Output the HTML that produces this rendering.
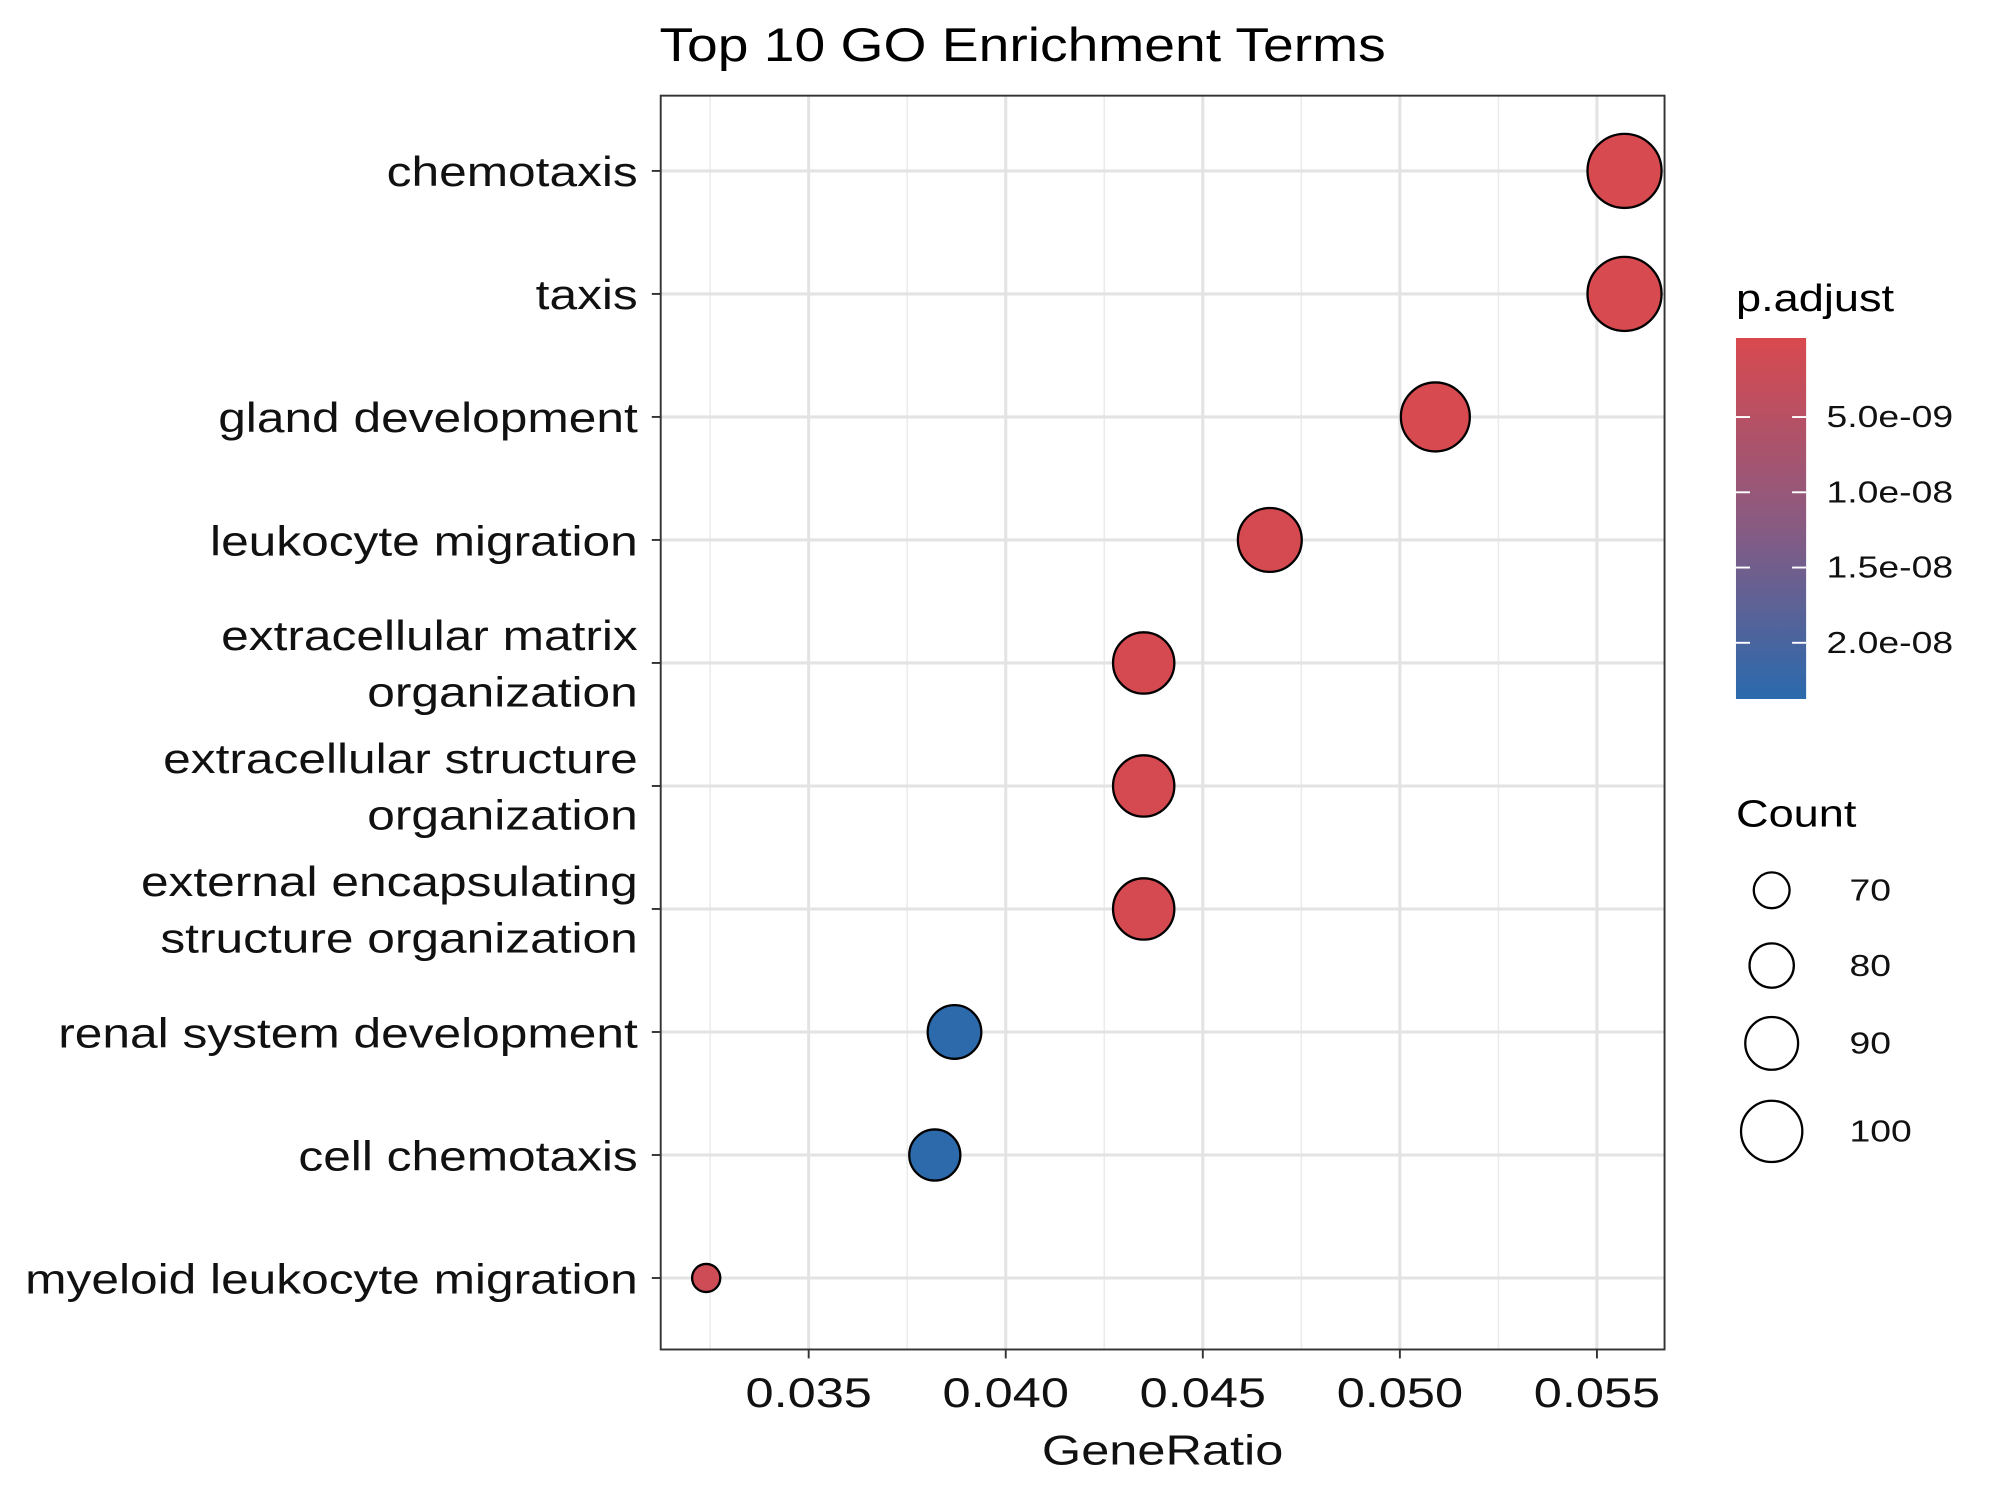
<!DOCTYPE html>
<html><head><meta charset="utf-8"><style>
html,body{margin:0;padding:0;background:#fff;}
svg{display:block;font-family:"Liberation Sans",Arial,sans-serif;}
</style></head><body>
<svg id="chart" width="2000" height="1500" viewBox="0 0 1568 1176" xmlns="http://www.w3.org/2000/svg">
<defs>
<linearGradient id="cbar" x1="0" y1="0" x2="0" y2="1">
<stop offset="0" stop-color="#D9494E"/><stop offset="0.5" stop-color="#8C5A80"/><stop offset="1" stop-color="#2A6AAD"/>
</linearGradient>
</defs>
<text transform="translate(517,48) scale(1.17,1)" font-size="37">Top 10 GO Enrichment Terms</text>
<g id="plot"></g>
<g id="legend">
<text transform="translate(1361,244) scale(1.18,1)" font-size="30">p.adjust</text>
<rect x="1361" y="265" width="55" height="283" fill="url(#cbar)"/>
<g id="cticks"></g>
<text transform="translate(1361,648) scale(1.18,1)" font-size="30">Count</text>
<g id="sizeleg"></g>
</g>
</svg>
<script>
const terms=["chemotaxis","taxis","gland development","leukocyte migration","extracellular matrix\norganization","extracellular structure\norganization","external encapsulating\nstructure organization","renal system development","cell chemotaxis","myeloid leukocyte migration"];
const geneRatio=[0.0557,0.0557,0.0509,0.0467,0.0435,0.0435,0.0435,0.0387,0.0382,0.0324];
const counts=[115,115,109,103,100,100,100,91,88,61];
const padj=[1e-10,1e-10,2e-10,3e-10,4e-10,4e-10,4e-10,2.3e-8,2.3e-8,1.5e-9];
const xTicks=[0.035,0.040,0.045,0.050,0.055];
const xTickLabels=["0.035","0.040","0.045","0.050","0.055"];
const cTicks=[5e-9,1e-8,1.5e-8,2e-8];
const cTickLabels=["5.0e-09","1.0e-08","1.5e-08","2.0e-08"];
const sizeBreaks=[70,80,90,100];

const NS="http://www.w3.org/2000/svg";
const L=518,R=1305,T=75,B=1058;
const x=v=>634+(v-0.035)/0.005*154.5;
const y=i=>134+i*96.44;
const r=c=>c/3-9.3;
const cy=v=>265+(v+0.25e-9)/5e-9*59;
function lerp(a,b,t){return Math.round(a+(b-a)*t);}
function col(p){let t=Math.max(0,Math.min(1,(p+0.25e-9)/2.36e-8));
 const s=[[217,73,78],[140,90,128],[42,106,173]];
 let a,b,u; if(t<0.5){a=s[0];b=s[1];u=t/0.5;}else{a=s[1];b=s[2];u=(t-0.5)/0.5;}
 return `rgb(${lerp(a[0],b[0],u)},${lerp(a[1],b[1],u)},${lerp(a[2],b[2],u)})`;}
function mk(tag,attrs,parent){const e=document.createElementNS(NS,tag);for(const k in attrs)e.setAttribute(k,attrs[k]);parent.appendChild(e);return e;}
function txt(parent,tx,ty,size,sx,anchor,content){
 const t=mk('text',{transform:`translate(${tx},${ty}) scale(${sx},1)`,'font-size':size,'text-anchor':anchor,fill:'#111'},parent);
 t.textContent=content;return t;}
const g=document.getElementById('plot');
const bg=mk('rect',{x:L,y:T,width:R-L,height:B-T,fill:'#fff'},g);


for(let i=0;i<xTicks.length+1;i++){const v=0.0325+i*0.005;const xx=x(v);if(xx<L||xx>R)continue;
 const ln=mk('line',{x1:xx,x2:xx,y1:T,y2:B,stroke:'#EBEBEB','stroke-width':1.2},g);
 
 }
xTicks.forEach((v,i)=>{const xx=x(v);
 const ln=mk('line',{x1:xx,x2:xx,y1:T,y2:B,stroke:'#E3E3E3','stroke-width':2.4},g);
 
 
 const tk=mk('line',{x1:xx,x2:xx,y1:B,y2:B+7,stroke:'#333','stroke-width':1.5},g);
 
 
 const t=txt(g,xx,B+45,33,1.2,'middle',xTickLabels[i]);
 
 });
terms.forEach((term,i)=>{const yy=y(i);
 const ln=mk('line',{x1:L,x2:R,y1:yy,y2:yy,stroke:'#E3E3E3','stroke-width':2.4},g);
 
 
 const tk=mk('line',{x1:L-7,x2:L,y1:yy,y2:yy,stroke:'#333','stroke-width':1.5},g);
 
 
 const lines=term.split("\n");
 lines.forEach((s,j)=>{const t=txt(g,L-18,yy+12+(j-(lines.length-1)/2)*44,33,1.18,'end',s);
  
  });});
terms.forEach((term,i)=>{
 const c=mk('circle',{cx:x(geneRatio[i]),cy:y(i),r:r(counts[i]),fill:col(padj[i]),stroke:'#000','stroke-width':1.8},g);
 
 });
const border=mk('rect',{x:L,y:T,width:R-L,height:B-T,fill:'none',stroke:'#333','stroke-width':1.5},g);


const xt=txt(g,(L+R)/2,1148,33,1.2,'middle',"GeneRatio");


const ct=document.getElementById('cticks');
cTicks.forEach((v,i)=>{const yy=cy(v);
 const a=mk('line',{x1:1361,x2:1372,y1:yy,y2:yy,stroke:'#fff','stroke-width':1.5},ct);
 
 
 const b=mk('line',{x1:1405,x2:1416,y1:yy,y2:yy,stroke:'#fff','stroke-width':1.5},ct);
 
 
 const t=txt(ct,1432,yy+8,24,1.22,'start',cTickLabels[i]);
 
 });
const sl=document.getElementById('sizeleg');
const sy=[698,757,818,887];
sizeBreaks.forEach((v,i)=>{
 const c=mk('circle',{cx:1389,cy:sy[i],r:r(v),fill:'#fff',stroke:'#000','stroke-width':1.8},sl);
 
 
 const t=txt(sl,1450,sy[i]+8,24,1.22,'start',String(v));
 
 });
</script>
</body></html>
